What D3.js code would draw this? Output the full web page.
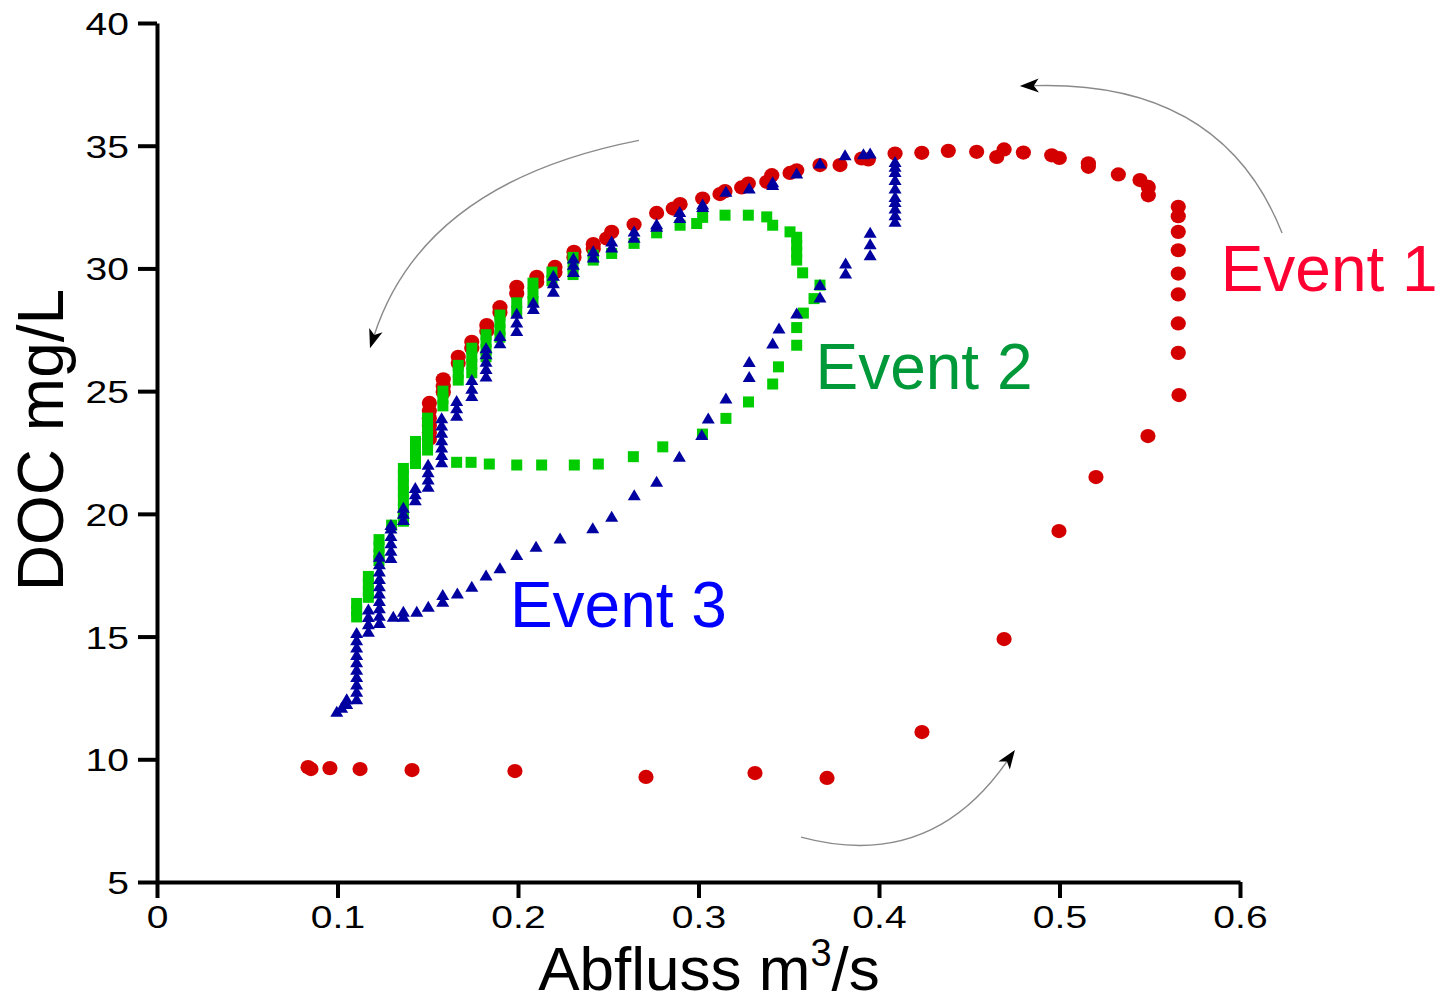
<!DOCTYPE html>
<html>
<head>
<meta charset="utf-8">
<script src="https://cdn.jsdelivr.net/npm/d3@7"></script>
<style>
  body { margin: 0; background: #fff; }
  text { font-family: "Liberation Sans", Arial, sans-serif; }
</style>
</head>
<body>
<script>
// Abfluss (m3/s) vs DOC (mg/L)
var event1 = [
  [0.0837,9.68],[0.0853,9.60],[0.0958,9.64],[0.1125,9.60],[0.1413,9.56],[0.1983,9.52],[0.2709,9.28],
  [0.3313,9.44],[0.3712,9.24],[0.4238,11.11],[0.4693,14.90],[0.4997,19.30],[0.5202,21.50],[0.5490,23.17],
  [0.5662,24.84],[0.5658,26.56],[0.5658,27.76],[0.5658,28.94],[0.5658,29.79],[0.5658,30.74],[0.5658,31.49],
  [0.5658,32.13],[0.5658,32.51],[0.5492,32.98],[0.5492,33.32],[0.5446,33.60],[0.5326,33.83],[0.5160,34.14],
  [0.5160,34.28],[0.4999,34.50],[0.4957,34.61],[0.4800,34.72],[0.4693,34.85],[0.4652,34.54],[0.4541,34.75],
  [0.4384,34.79],[0.4237,34.71],[0.4089,34.68],[0.3941,34.44],[0.3904,34.48],[0.3784,34.21],[0.3673,34.21],
  [0.3544,34.00],[0.3507,33.89],[0.3406,33.80],[0.3378,33.53],[0.3276,33.46],[0.3239,33.30],[0.3147,33.15],
  [0.3119,33.03],[0.3023,32.85],[0.2898,32.62],[0.2860,32.44],[0.2768,32.26],[0.2643,31.79],[0.2519,31.49],
  [0.2491,31.22],[0.2417,30.99],[0.2417,30.80],[0.2310,30.68],[0.2310,30.45],[0.2205,30.06],[0.2205,29.85],
  [0.2104,29.66],[0.2104,29.45],[0.1993,29.25],[0.1993,28.98],[0.1900,28.42],[0.1900,28.20],[0.1827,27.69],
  [0.1827,27.45],[0.1744,27.01],[0.1744,26.75],[0.1669,26.40],[0.1669,26.15],[0.1586,25.48],[0.1586,25.20],
  [0.1586,24.95],[0.1509,24.52],[0.1509,24.20],[0.1509,23.90],[0.1509,23.60],[0.1509,23.30],[0.1509,23.05]
];

var event2 = [
  [0.1106,15.80],[0.1106,16.05],[0.1106,16.35],
  [0.1171,16.60],[0.1171,16.85],[0.1171,17.15],[0.1171,17.45],
  [0.1230,18.10],[0.1230,18.35],[0.1230,18.65],[0.1230,18.95],
  [0.1300,19.54],
  [0.1365,19.70],[0.1365,19.90],[0.1365,20.20],[0.1365,20.55],[0.1365,20.90],[0.1365,21.20],[0.1365,21.55],[0.1365,21.85],
  [0.1432,22.05],[0.1432,22.35],[0.1432,22.65],[0.1432,22.95],
  [0.1499,22.60],[0.1499,22.90],[0.1499,23.20],[0.1499,23.55],[0.1499,23.90],
  [0.1584,24.40],[0.1584,24.70],[0.1584,25.00],
  [0.1669,25.45],[0.1669,25.75],[0.1669,26.05],
  [0.1744,25.75],[0.1744,26.10],[0.1744,26.40],[0.1744,26.75],
  [0.1823,26.40],[0.1823,26.70],[0.1823,27.00],[0.1823,27.30],
  [0.1900,27.20],[0.1900,27.50],[0.1900,27.80],[0.1900,28.10],
  [0.1993,28.25],[0.1993,28.60],
  [0.2083,28.65],[0.2083,29.00],[0.2083,29.40],
  [0.2188,29.50],[0.2188,29.85],
  [0.2305,29.75],[0.2305,30.10],[0.2305,30.45],
  [0.2417,30.34],[0.2417,30.54],
  [0.2519,30.61],[0.2643,31.02],[0.2768,31.45],[0.2898,31.76],[0.2990,31.83],[0.3023,32.08],[0.3147,32.17],
  [0.3276,32.17],[0.3378,32.10],[0.3411,31.76],[0.3507,31.49],[0.3544,31.27],[0.3544,30.95],[0.3544,30.65],
  [0.3544,30.34],[0.3577,29.82],[0.3673,29.32],[0.3640,28.77],[0.3581,28.18],[0.3544,27.59],[0.3544,26.87],
  [0.3443,25.99],[0.3411,25.29],[0.3277,24.56],[0.3152,23.89],[0.3022,23.25],[0.2802,22.73],[0.2639,22.33],
  [0.2445,22.03],[0.2312,21.99],[0.2131,21.99],[0.1993,21.99],[0.1841,22.03],[0.1740,22.10],[0.1660,22.10]
];

var event3 = [
  [0.0996,11.94],[0.1023,12.10],[0.1051,12.25],[0.1051,12.45],
  [0.1106,12.45],[0.1106,12.75],[0.1106,13.05],[0.1106,13.35],[0.1106,13.65],[0.1106,13.95],[0.1106,14.25],
  [0.1106,14.55],[0.1106,14.85],[0.1106,15.15],
  [0.1171,15.20],[0.1171,15.50],[0.1171,15.80],[0.1171,16.10],
  [0.1232,15.55],[0.1232,15.85],[0.1232,16.15],[0.1232,16.45],[0.1232,16.75],[0.1232,17.05],[0.1232,17.35],
  [0.1232,17.65],[0.1232,17.95],[0.1232,18.25],
  [0.1296,18.20],[0.1296,18.50],[0.1296,18.80],[0.1296,19.10],[0.1296,19.40],[0.1296,19.55],
  [0.1365,19.75],[0.1365,20.00],[0.1365,20.25],
  [0.1431,20.55],[0.1431,20.80],[0.1431,21.05],
  [0.1502,21.10],[0.1502,21.40],[0.1502,21.70],[0.1502,22.00],
  [0.1577,22.10],[0.1577,22.40],[0.1577,22.70],[0.1577,23.00],[0.1577,23.30],[0.1577,23.60],[0.1577,23.90],
  [0.1660,24.00],[0.1660,24.30],[0.1660,24.60],
  [0.1744,24.80],[0.1744,25.10],[0.1744,25.45],
  [0.1823,25.60],[0.1823,25.90],[0.1823,26.20],[0.1823,26.50],[0.1823,26.75],
  [0.1900,26.95],[0.1900,27.25],
  [0.1993,27.45],[0.1993,27.80],[0.1993,28.15],
  [0.2085,28.35],[0.2085,28.60],
  [0.2196,29.05],[0.2196,29.40],[0.2196,29.70],
  [0.2307,29.85],[0.2307,30.15],[0.2307,30.40],
  [0.2417,30.45],[0.2417,30.70],
  [0.2519,30.85],[0.2519,31.10],
  [0.2643,31.25],[0.2643,31.50],
  [0.2768,31.70],[0.2768,31.80],
  [0.2896,32.05],[0.2896,32.30],
  [0.3023,32.50],[0.3023,32.60],
  [0.3152,33.12],[0.3281,33.26],[0.3411,33.40],[0.3411,33.51],[0.3544,33.87],[0.3673,34.28],[0.3812,34.61],
  [0.3914,34.65],[0.3951,34.68],
  [0.4089,34.34],[0.4089,34.14],[0.4089,33.93],[0.4089,33.60],[0.4089,33.26],[0.4089,32.91],[0.4089,32.71],
  [0.4089,32.44],[0.4089,32.17],[0.4089,31.90],
  [0.3951,31.45],[0.3951,30.99],[0.3951,30.54],[0.3815,30.20],[0.3815,29.79],[0.3673,29.32],[0.3673,28.82],
  [0.3544,28.16],[0.3446,27.55],[0.3411,26.94],[0.3281,26.19],[0.3281,25.58],[0.3152,24.70],[0.3054,23.89],
  [0.3018,23.21],[0.2894,22.33],[0.2768,21.31],[0.2644,20.76],[0.2519,19.88],[0.2414,19.41],[0.2233,19.00],
  [0.2100,18.66],[0.1993,18.32],[0.1900,17.78],[0.1823,17.49],[0.1744,17.03],[0.1664,16.76],[0.1583,16.69],
  [0.1583,16.42],[0.1503,16.22],[0.1439,16.01],[0.1365,16.01],[0.1365,15.81],[0.1309,15.81]
];

var xTicks = [0, 0.1, 0.2, 0.3, 0.4, 0.5, 0.6];
var yTicks = [5, 10, 15, 20, 25, 30, 35, 40];

// event labels [text, Q, DOC]
var labels = [
  ["Event 1", 0.5893, 29.07],
  ["Event 2", 0.3648, 25.08],
  ["Event 3", 0.1955, 15.38]
];

// arrows: start, control, tip (Q, DOC)
var arrows = [
  [[0.6233, 31.44], [0.5900, 37.67], [0.4780, 37.43]],
  [[0.2670, 35.22], [0.1480, 33.51], [0.1180, 26.75]],
  [[0.3568, 6.83], [0.4283, 5.41], [0.4753, 10.38]]
];

var W = 1439, H = 1004;
var svg = d3.select("body").append("svg")
    .attr("width", W)
    .attr("height", H);

var x = d3.scaleLinear().domain([0, 0.6]).range([157, 1240]);
var y = d3.scaleLinear().domain([5, 40]).range([882, 23]);

// axes
var yAxis = svg.append("g")
    .attr("transform", "translate(157,0)")
    .call(d3.axisLeft(y).tickValues(yTicks).tickSize(19).tickSizeOuter(0).tickFormat(d3.format("d")));

var xAxis = svg.append("g")
    .attr("transform", "translate(0,882)")
    .call(d3.axisBottom(x).tickValues(xTicks).tickSize(16).tickSizeOuter(0)
          .tickFormat(function(d){ return d == 0 ? "0" : d3.format(".1f")(d) }));

svg.selectAll(".domain, .tick line")
    .attr("stroke", "#000")
    .attr("stroke-width", 4);

yAxis.selectAll("text")
    .attr("x", 0).attr("dy", "0.36em")
    .attr("text-anchor", "end")
    .attr("transform", "translate(-28,0) scale(1.22,1)")
    .style("font-size", "32px").style("fill", "#000");

xAxis.selectAll("text")
    .attr("y", 0).attr("dy", 0)
    .attr("text-anchor", "middle")
    .attr("transform", "translate(0,46) scale(1.22,1)")
    .style("font-size", "32px").style("fill", "#000");

// axis titles
svg.append("text")
    .attr("transform", "translate(63,440) rotate(-90)")
    .attr("text-anchor", "middle")
    .style("font-size", "64px")
    .text("DOC mg/L");

var xt = svg.append("text")
    .attr("x", 709).attr("y", 990)
    .attr("text-anchor", "middle")
    .style("font-size", "62px");
xt.append("tspan").text("Abfluss m");
xt.append("tspan").attr("dy", -24).style("font-size", "38px").text("3");
xt.append("tspan").attr("dy", 24).text("/s");

// arrows: grey curve + black notched head along the end tangent
var arrowG = svg.append("g");
arrows.forEach(function(a){
    var p0 = [x(a[0][0]), y(a[0][1])],
        c  = [x(a[1][0]), y(a[1][1])],
        p2 = [x(a[2][0]), y(a[2][1])];
    var ang = Math.atan2(p2[1] - c[1], p2[0] - c[0]);
    var len = 19, half = 7, notch = 14;
    var ca = Math.cos(ang), sa = Math.sin(ang);
    var back = [p2[0] - notch * ca, p2[1] - notch * sa];
    arrowG.append("path")
        .attr("d", "M" + p0 + " Q" + c + " " + back)
        .attr("fill", "none")
        .attr("stroke", "#8a8a8a")
        .attr("stroke-width", 1.4);
    var b = [p2[0] - len * ca, p2[1] - len * sa];
    arrowG.append("path")
        .attr("d", "M" + p2 +
              " L" + [b[0] - half * sa, b[1] + half * ca] +
              " L" + back +
              " L" + [b[0] + half * sa, b[1] - half * ca] + " Z")
        .attr("fill", "#000");
});

// event 1: red circles
svg.append("g").selectAll("ellipse")
    .data(event1)
    .enter().append("ellipse")
    .attr("cx", function(d){ return x(d[0]) })
    .attr("cy", function(d){ return y(d[1]) })
    .attr("rx", 7.6)
    .attr("ry", 7.1)
    .attr("fill", "#d40000");

// event 2: green squares
svg.append("g").selectAll("rect")
    .data(event2)
    .enter().append("rect")
    .attr("x", function(d){ return x(d[0]) - 5.5 })
    .attr("y", function(d){ return y(d[1]) - 5.5 })
    .attr("width", 11)
    .attr("height", 11)
    .attr("fill", "#00cc00");

// event 3: blue triangles
svg.append("g").selectAll("path")
    .data(event3)
    .enter().append("path")
    .attr("transform", function(d){ return "translate(" + x(d[0]) + "," + y(d[1]) + ")" })
    .attr("d", "M0,-6 L6.5,5 L-6.5,5 Z")
    .attr("fill", "#0000a0");

// event labels
var labelColors = ["#ff0033", "#00993a", "#0000ff"];
svg.selectAll(".evlabel")
    .data(labels)
    .enter().append("text")
    .attr("class", "evlabel")
    .attr("x", function(d){ return x(d[1]) })
    .attr("y", function(d){ return y(d[2]) })
    .style("font-size", "64px")
    .style("fill", function(d, i){ return labelColors[i] })
    .text(function(d){ return d[0] });
</script>
</body>
</html>
